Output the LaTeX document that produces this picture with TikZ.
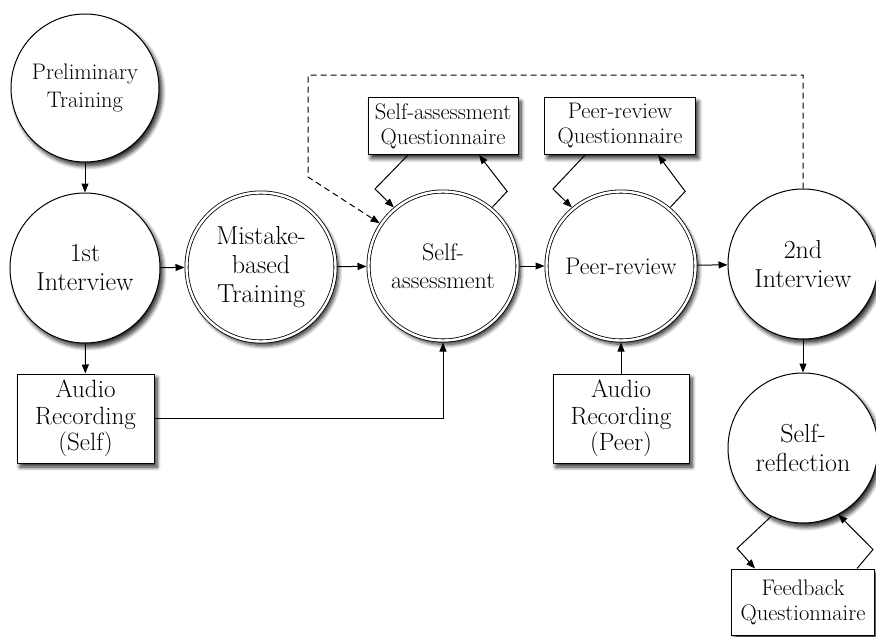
\documentclass[tikz,border=0pt]{standalone}
\usepackage{fontspec}
\usetikzlibrary{arrows.meta,calc,shadows.blur}

\begin{document}
\begin{tikzpicture}[x=1pt,y=-1pt,>={Triangle[length=9pt,width=7pt]},line width=1pt,
    every node/.style={align=center},
    shade/.style={blur shadow={shadow xshift=3pt,shadow yshift=-4pt,shadow blur radius=4pt,shadow blur steps=8,shadow opacity=85}},
    stage/.style={draw,circle,fill=white,inner sep=0pt,minimum size=150pt,shade},
    dstage/.style={stage,double,double distance=2.4pt,line width=0.8pt,minimum size=149pt,outer sep=2pt},
    docbox/.style={draw,fill=white,inner sep=0pt,shade},
    big/.style={font=\fontsize{26}{29}\selectfont},
    small/.style={font=\fontsize{22.5}{25}\selectfont}]
    \useasboundingbox (0,0) rectangle (876,637);

    % stages
    \node[stage,minimum size=148pt,font=\fontsize{22.5}{28}\selectfont] (prelim) at (85,88) {Preliminary\\Training};
    \node[stage,big] (int1) at (85,268) {1st\\Interview};
    \node[dstage,big] (mistake) at (261,267) {Mistake-\\based\\Training};
    \node[dstage,font=\fontsize{24}{28}\selectfont] (selfass) at (443,266) {Self-\\assessment};
    \node[dstage,font=\fontsize{24}{28}\selectfont] (peer) at (621,266) {Peer-review};
    \node[stage,big] (int2) at (803,264) {2nd\\Interview};
    \node[stage,big] (reflect) at (803,448) {Self-\\reflection};

    % questionnaires and recordings
    \node[docbox,small,minimum width=150pt,minimum height=57pt] (saq) at (443,126) {Self-assessment\\Questionnaire};
    \node[docbox,small,minimum width=151pt,minimum height=57pt] (prq) at (620,126) {Peer-review\\Questionnaire};
    \node[docbox,font=\fontsize{25}{26.5}\selectfont,minimum width=137pt,minimum height=89pt] (audself) at (85.5,418.5) {Audio\\Recording\\(Self)};
    \node[docbox,font=\fontsize{25}{26.5}\selectfont,minimum width=136pt,minimum height=89pt] (audpeer) at (621,418.5) {Audio\\Recording\\(Peer)};
    \node[docbox,small,minimum width=143pt,minimum height=66pt] (fbq) at (803,602) {Feedback\\Questionnaire};

    % main flow
    \draw[->] (prelim) -- (int1);
    \draw[->] (int1) -- (mistake);
    \draw[->] (mistake) -- (selfass);
    \draw[->] (selfass) -- (peer);
    \draw[->] (peer) -- (int2);
    \draw[->] (int1) -- (audself);
    \draw[->] (int2) -- (reflect);
    \draw[->] (audself.east) -| (selfass.south);
    \draw[->] (audpeer) -- (peer);

    % questionnaire loops
    \draw[->] ($(saq.south)+(-35,0)$) -- ++(-33,34) -- (selfass.130);
    \draw[->] (selfass.50) -- ++(15,-16) -- ($(saq.south)+(36,0)$);
    \draw[->] ($(prq.south)+(-35,0)$) -- ++(-32,34) -- (peer.130);
    \draw[->] (peer.50) -- ++(15,-16) -- ($(prq.south)+(38,0)$);
    \draw[->] (reflect.245) -- ++(-34,32) -- ($(fbq.north)+(-48,0)$);
    \draw[->] ($(fbq.north)+(54,0)$) -- ++(16,-19) -- (reflect.-62);

    % feedback back to self-assessment
    \coordinate (back) at (308,75);
    \draw[->,dash pattern=on 6pt off 4pt] (int2.north) |- (back) -- ++(0,102) -- (selfass.146);
\end{tikzpicture}
\end{document}
